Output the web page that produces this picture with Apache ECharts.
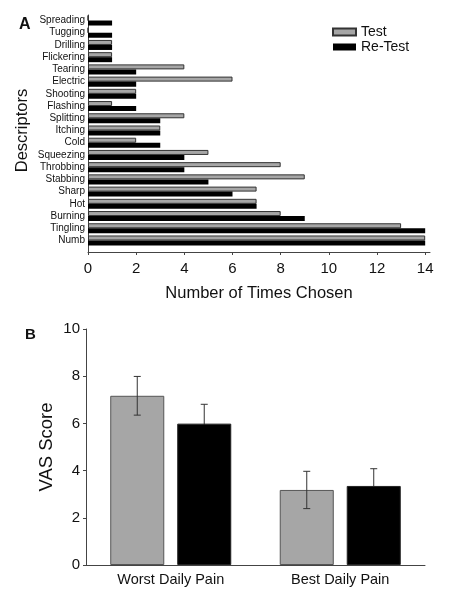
<!DOCTYPE html>
<html>
<head>
<meta charset="utf-8">
<script src="https://cdn.jsdelivr.net/npm/echarts@6/dist/echarts.min.js"></script>
<style>
html,body{margin:0;padding:0;background:#fff;}
#chart{width:449px;height:601px;}
</style>
</head>
<body>
<div id="chart"></div>
<script>
// Panel A data (bottom to top)
const descriptors = ['Numb','Tingling','Burning','Hot','Sharp','Stabbing','Throbbing','Squeezing','Cold','Itching','Splitting','Flashing','Shooting','Electric','Tearing','Flickering','Drilling','Tugging','Spreading'];
const testCounts   = [14, 13, 8, 7, 7, 9, 8, 5, 2, 3, 4, 1, 2, 6, 4, 1, 1, 0, 0];
const retestCounts = [14, 14, 9, 7, 6, 5, 4, 4, 3, 3, 3, 2, 2, 2, 2, 1, 1, 1, 1];
const countTicks = [0, 2, 4, 6, 8, 10, 12, 14];

// Panel B data
const painCategories = ['Worst Daily Pain', 'Best Daily Pain'];
const vasTestMean   = [7.17, 3.18];
const vasTestErr    = [0.82, 0.79];
const vasRetestMean = [5.99, 3.35];
const vasRetestErr  = [0.82, 0.73];

const FONT = '"Liberation Sans", Arial, sans-serif';
const CAT_GAP = 0.286, BAR_GAP = 0.24;

function errRender(seriesIdx, barCount) {
  return function (params, api) {
    const xi = api.value(0), m = api.value(1), e = api.value(2);
    const c = api.coord([xi, m]);
    const band = api.size([1, 0])[0];
    const total = band * (1 - CAT_GAP);
    const bw = total / (barCount + (barCount - 1) * BAR_GAP);
    const x = c[0] - total / 2 + bw / 2 + seriesIdx * bw * (1 + BAR_GAP);
    const top = api.coord([xi, m + e])[1];
    const bot = api.coord([xi, m - e])[1];
    const cap = 3.5;
    const st = { stroke: '#333', lineWidth: 1 };
    return {
      type: 'group',
      children: [
        { type: 'line', shape: { x1: x, y1: top, x2: x, y2: bot }, style: st },
        { type: 'line', shape: { x1: x - cap, y1: top, x2: x + cap, y2: top }, style: st },
        { type: 'line', shape: { x1: x - cap, y1: bot, x2: x + cap, y2: bot }, style: st }
      ]
    };
  };
}

const chart = echarts.init(document.getElementById('chart'), null, { renderer: 'canvas' });
const axisLineStyle = { color: '#444', width: 1 };

chart.setOption({
  animation: false,
  backgroundColor: '#fff',
  textStyle: { fontFamily: FONT },
  title: [
    { text: 'A', left: 14, top: 12, textStyle: { fontFamily: FONT, fontWeight: 'bold', fontSize: 16, color: '#111' } },
    { text: 'B', left: 20, top: 322, textStyle: { fontFamily: FONT, fontWeight: 'bold', fontSize: 15, color: '#111' } }
  ],
  legend: {
    data: ['Test', 'Re-Test'],
    orient: 'vertical',
    left: 332, top: 24.5, padding: 0,
    itemWidth: 23, itemHeight: 7, itemGap: 0,
    icon: 'rect',
    textStyle: { fontFamily: FONT, fontSize: 14, color: '#111', lineHeight: 15 },
    selectedMode: false
  },
  grid: [
    { left: 88, right: 19, top: 15, height: 237 },
    { left: 88, right: 19, top: 14.4, height: 232.2 },
    { left: 86, right: 24, top: 329, height: 236 }
  ],
  xAxis: [
    {
      gridIndex: 0, type: 'value', min: 0, max: 14.2, interval: 2,
      name: 'Number of Times Chosen', nameLocation: 'middle', nameGap: 33,
      nameTextStyle: { fontFamily: FONT, fontSize: 16.5, color: '#111' },
      axisLine: { show: true, lineStyle: axisLineStyle },
      axisTick: { show: true, length: 3, customValues: countTicks, lineStyle: axisLineStyle },
      axisLabel: { customValues: countTicks, margin: 9, fontSize: 15, color: '#111', fontFamily: FONT,
        formatter: v => (v % 2 === 0 ? String(v) : '') },
      splitLine: { show: false }
    },
    { gridIndex: 1, type: 'value', min: 0, max: 14.2, show: false },
    {
      gridIndex: 2, type: 'category', data: painCategories,
      axisLine: { show: true, lineStyle: axisLineStyle },
      axisTick: { show: false },
      axisLabel: { margin: 7, fontSize: 14.5, color: '#111', fontFamily: FONT }
    }
  ],
  yAxis: [
    {
      gridIndex: 0, type: 'value', min: 0, max: 1,
      axisLine: { show: true, lineStyle: axisLineStyle },
      axisTick: { show: false }, axisLabel: { show: false }, splitLine: { show: false }
    },
    {
      gridIndex: 1, type: 'category', data: descriptors,
      name: 'Descriptors', nameLocation: 'middle', nameGap: 57, nameMoveOverlap: false,
      nameTextStyle: { fontFamily: FONT, fontSize: 16.5, color: '#111' },
      axisLine: { show: false }, axisTick: { show: false },
      axisLabel: { margin: 3, fontSize: 10, color: '#111', fontFamily: FONT, interval: 0 }
    },
    {
      gridIndex: 2, type: 'value', min: 0, max: 10, interval: 2,
      name: 'VAS Score', nameLocation: 'middle', nameGap: 30, nameMoveOverlap: false,
      nameTextStyle: { fontFamily: FONT, fontSize: 18.5, color: '#111' },
      axisLine: { show: true, lineStyle: axisLineStyle },
      axisTick: { show: true, length: 3, lineStyle: axisLineStyle },
      axisLabel: { margin: 6, fontSize: 15, color: '#111', fontFamily: FONT },
      splitLine: { show: false }
    }
  ],
  series: [
    {
      name: 'Test', type: 'bar', xAxisIndex: 1, yAxisIndex: 1, data: testCounts,
      barCategoryGap: '18%', barGap: '0%',
      itemStyle: { color: '#a6a6a6', borderColor: '#333', borderWidth: 1 }
    },
    {
      name: 'Re-Test', type: 'bar', xAxisIndex: 1, yAxisIndex: 1, data: retestCounts,
      barCategoryGap: '18%', barGap: '0%',
      itemStyle: { color: '#000' }
    },
    {
      name: 'Test', type: 'bar', xAxisIndex: 2, yAxisIndex: 2, data: vasTestMean,
      barCategoryGap: (CAT_GAP * 100) + '%', barGap: (BAR_GAP * 100) + '%',
      itemStyle: { color: '#a6a6a6', borderColor: '#555', borderWidth: 1 }
    },
    {
      name: 'Re-Test', type: 'bar', xAxisIndex: 2, yAxisIndex: 2, data: vasRetestMean,
      barCategoryGap: (CAT_GAP * 100) + '%', barGap: (BAR_GAP * 100) + '%',
      itemStyle: { color: '#000', borderColor: '#222', borderWidth: 1 }
    },
    {
      name: 'errTest', type: 'custom', xAxisIndex: 2, yAxisIndex: 2,
      renderItem: errRender(0, 2), z: 5,
      encode: { x: 0, y: 1 },
      data: painCategories.map((c, i) => [i, vasTestMean[i], vasTestErr[i]])
    },
    {
      name: 'errRetest', type: 'custom', xAxisIndex: 2, yAxisIndex: 2,
      renderItem: errRender(1, 2), z: 1,
      encode: { x: 0, y: 1 },
      data: painCategories.map((c, i) => [i, vasRetestMean[i], vasRetestErr[i]])
    }
  ]
});
</script>
</body>
</html>
